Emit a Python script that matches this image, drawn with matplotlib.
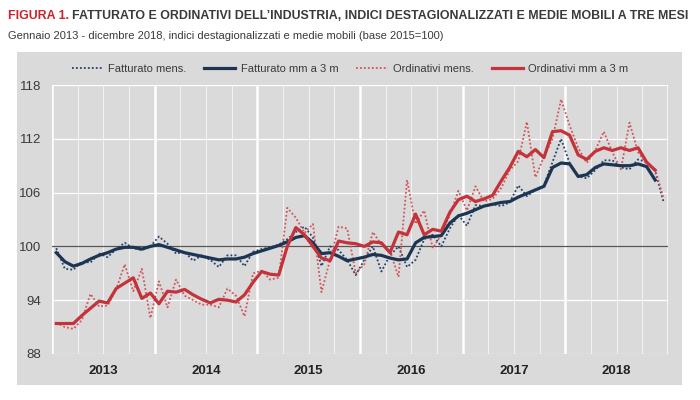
from __future__ import annotations

import matplotlib

matplotlib.use("Agg")
import matplotlib.pyplot as plt
import matplotlib.transforms as mtransforms
import numpy as np
from matplotlib.patches import Rectangle


YEARS = ["2013", "2014", "2015", "2016", "2017", "2018"]

# Jan 2013 - Dec 2018, monthly indices (base 2015=100)
FATTURATO_MENS = [
    99.8, 97.5, 97.4, 98.3, 98.2, 99.2, 98.8, 99.7, 100.4, 99.8, 99.6, 100.0,
    101.1, 100.3, 99.2, 99.4, 98.4, 99.0, 98.5, 97.7, 99.0, 99.0, 97.8, 99.4,
    99.7, 99.9, 100.2, 100.8, 101.6, 102.2, 101.0, 97.8, 100.0, 99.6, 98.5, 96.8,
    98.5, 100.0, 97.2, 99.0, 100.0, 97.7, 98.5, 100.8, 101.3, 100.0, 102.0, 103.5,
    102.3, 104.6, 104.5, 104.7, 104.5, 104.9, 106.8, 105.6, 106.3, 106.8, 109.4, 112.0,
    109.3, 107.8, 107.6, 108.5, 109.6, 109.6, 108.8, 108.6, 109.7, 109.4, 108.4, 104.9,
]

# three-month moving averages, Jan 2013 - Nov 2018
FATTURATO_MM = [
    99.3, 98.3, 97.8, 98.1, 98.6, 99.0, 99.3, 99.7, 99.9, 99.9, 99.7, 100.0,
    100.2, 99.9, 99.6, 99.3, 99.1, 98.9, 98.7, 98.5, 98.6, 98.6, 98.8, 99.2,
    99.5, 99.8, 100.1, 100.5, 101.0, 101.2, 100.4, 99.2, 99.3, 98.9, 98.4, 98.6,
    98.8, 99.1, 99.0, 98.7, 98.5, 98.6, 100.4, 101.0, 101.1, 101.2, 102.6, 103.4,
    103.7, 104.1, 104.5, 104.7, 104.9, 105.0, 105.5, 105.9, 106.3, 106.7, 108.8, 109.3,
    109.2, 107.8, 108.0, 108.8, 109.2, 109.1, 109.0, 109.0, 109.2, 108.9, 107.4,
]

ORDINATIVI_MENS = [
    91.5, 91.0, 90.8, 91.8, 94.7, 93.3, 93.4, 95.2, 98.0, 95.0, 97.5, 92.0,
    96.1, 93.2, 96.3, 94.5, 94.0, 93.5, 93.5, 93.2, 95.3, 94.5, 92.2, 97.0,
    97.3, 96.3, 96.5, 104.3, 103.2, 101.5, 102.5, 94.9, 98.5, 102.2, 102.0, 97.0,
    98.0, 101.6, 100.2, 99.5, 96.6, 107.4, 102.5, 104.0, 99.8, 101.3, 103.5, 106.2,
    104.0, 106.7, 105.0, 105.3, 106.5, 108.5, 109.5, 113.9, 107.7, 110.0, 112.0, 116.4,
    113.5, 111.0, 109.3, 110.7, 112.8, 110.5, 108.6, 113.8, 110.5, 109.2, 108.6, 105.3,
]

ORDINATIVI_MM = [
    91.4, 91.4, 91.4, 92.3, 93.1, 93.9, 93.7, 95.3, 95.9, 96.5, 94.2, 94.8,
    93.6, 95.0, 94.9, 95.2, 94.6, 94.1, 93.7, 94.1, 94.0, 93.8, 94.6, 96.0,
    97.2, 96.9, 96.8, 100.0, 102.1, 101.3, 100.0, 98.7, 98.4, 100.6, 100.4, 100.3,
    100.0, 100.5, 100.4, 99.3, 101.6, 101.3, 103.6, 101.3, 101.9, 101.7, 103.8, 105.2,
    105.6, 105.0, 105.3, 105.7, 107.3, 108.8, 110.6, 110.0, 110.8, 109.9, 112.8, 112.9,
    112.4, 110.2, 109.7, 110.6, 111.0, 110.7, 111.0, 110.7, 111.0, 109.4, 108.5,
]

Y_TICKS = [88, 94, 100, 106, 112, 118]

NAVY = "#1b3553"
NAVY_DOT = "#23426a"
RED = "#c4323a"
RED_DOT = "#d0555a"
PANEL = "#dadada"
TEXT = "#3a3a3a"

FONT = ["Liberation Sans Narrow", "Liberation Sans", "DejaVu Sans"]


def main() -> None:
    plt.rcParams["font.family"] = FONT

    fig = plt.figure(figsize=(7, 4), dpi=100)
    fig.patches.append(
        Rectangle((17 / 700, 15 / 400), 665 / 700, 333 / 400,
                  transform=fig.transFigure, facecolor=PANEL,
                  edgecolor="none", zorder=-10)
    )

    ax = fig.add_axes((52 / 700, 46 / 400, 616 / 700, 269 / 400))
    ax.set_facecolor(PANEL)
    ax.set_zorder(1)

    n_months = len(FATTURATO_MENS)
    x_mens = np.arange(n_months) + 0.5
    x_mm = np.arange(len(FATTURATO_MM)) + 0.5

    ax.plot(x_mens, FATTURATO_MENS, color=NAVY_DOT, lw=1.3, ls=(0, (1, 1.2)),
            label="Fatturato mens.", zorder=3)
    ax.plot(x_mm, FATTURATO_MM, color=NAVY, lw=2.3,
            label="Fatturato mm a 3 m", zorder=5)
    ax.plot(x_mens, ORDINATIVI_MENS, color=RED_DOT, lw=1.3, ls=(0, (1, 1.2)),
            label="Ordinativi mens.", zorder=4)
    ax.plot(x_mm, ORDINATIVI_MM, color=RED, lw=2.3,
            label="Ordinativi mm a 3 m", zorder=6)

    ax.axhline(100, color="#555555", lw=0.9, zorder=2)

    ax.set_xlim(0, n_months)
    ax.set_ylim(Y_TICKS[0], Y_TICKS[-1])
    ax.set_yticks(Y_TICKS)
    ax.set_xticks(np.arange(0, n_months + 1, 12))
    ax.set_xticks(np.arange(0, n_months + 1, 3), minor=True)
    ax.set_xticklabels([])
    ax.grid(axis="y", color="white", lw=0.9)
    ax.grid(axis="x", which="major", color="white", lw=1.8)
    ax.grid(axis="x", which="minor", color="white", lw=0.6, alpha=0.8)
    ax.set_axisbelow(True)
    ax.tick_params(axis="both", which="both", length=0)
    ax.tick_params(axis="y", labelsize=9.5, labelcolor=TEXT, pad=8)
    for spine in ax.spines.values():
        spine.set_visible(False)

    trans = mtransforms.blended_transform_factory(ax.transData, ax.transAxes)
    for i, year in enumerate(YEARS):
        ax.text(i * 12 + 6, -0.04, year, transform=trans, ha="center",
                va="top", fontsize=9.5, fontweight="bold", color="#222222")

    fig.legend(loc="center", bbox_to_anchor=(0.5, 1 - 69 / 400), ncol=4,
               frameon=False, fontsize=8, handlelength=2.8,
               columnspacing=1.6, handletextpad=0.5, labelcolor=TEXT)

    t1 = fig.text(8 / 700, 1 - 16 / 400, "FIGURA 1.", color="#c8262d",
                  fontsize=8.9, fontweight="bold", va="center", ha="left")
    renderer = fig.canvas.get_renderer()
    bb = t1.get_window_extent(renderer)
    fig.text(bb.x1 / fig.bbox.width + 3 / 700, 1 - 16 / 400,
             "FATTURATO E ORDINATIVI DELL\u2019INDUSTRIA, INDICI DESTAGIONALIZZATI "
             "E MEDIE MOBILI A TRE MESI",
             color=TEXT, fontsize=8.9, fontweight="bold", va="center", ha="left")
    fig.text(8 / 700, 1 - 36 / 400,
             "Gennaio 2013 - dicembre 2018, indici destagionalizzati e medie "
             "mobili (base 2015=100)",
             color=TEXT, fontsize=8.0, va="center", ha="left")

    fig.savefig("out.png", dpi=100)


if __name__ == "__main__":
    main()
